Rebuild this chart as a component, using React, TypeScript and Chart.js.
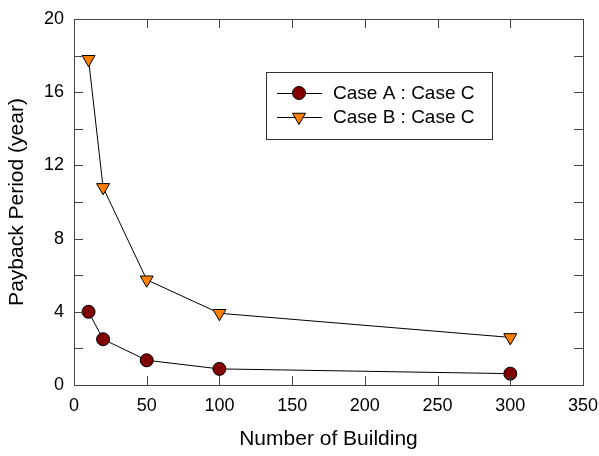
import React, { useEffect, useRef } from "react";
import { Chart, registerables } from "chart.js";

Chart.register(...registerables);

const buildings = [10, 20, 50, 100, 300];
const caseA = [4.0, 2.5, 1.35, 0.88, 0.62];
const caseB = [17.8, 10.8, 5.75, 3.92, 2.6];
const seriesLabels = ["Case A : Case C", "Case B : Case C"];
const xTicks = [0, 50, 100, 150, 200, 250, 300, 350];
const yTicks = [0, 2, 4, 6, 8, 10, 12, 14, 16, 18, 20];

const FONT = "'Liberation Sans', Arial, Helvetica, sans-serif";

const framePlugin = {
  id: "frameTicks",
  afterDatasetsDraw(chart: any) {
    const { ctx, chartArea, scales } = chart;
    const { left, right, top, bottom } = chartArea;
    const L = 9;
    ctx.save();
    ctx.strokeStyle = "#444";
    ctx.lineWidth = 1;
    ctx.beginPath();
    for (const v of xTicks) {
      const x = Math.round(scales.x.getPixelForValue(v)) + 0.5;
      ctx.moveTo(x, bottom);
      ctx.lineTo(x, bottom - L);
      ctx.moveTo(x, top);
      ctx.lineTo(x, top + L);
    }
    for (const v of yTicks) {
      const y = Math.round(scales.y.getPixelForValue(v)) + 0.5;
      ctx.moveTo(left, y);
      ctx.lineTo(left + L, y);
      ctx.moveTo(right, y);
      ctx.lineTo(right - L, y);
    }
    ctx.stroke();
    ctx.strokeRect(Math.round(left) + 0.5, Math.round(top) + 0.5, Math.round(right - left), Math.round(bottom - top));
    ctx.restore();
  },
  afterDraw(chart: any) {
    const { ctx } = chart;
    ctx.save();
    const bx = 266, by = 72, bw = 226, bh = 67;
    ctx.strokeStyle = "#333";
    ctx.lineWidth = 1;
    ctx.strokeRect(bx + 0.5, by + 0.5, bw, bh);
    const rows = [93, 117];
    chart.data.datasets.forEach((ds: any, i: number) => {
      const y = rows[i];
      ctx.strokeStyle = "#000";
      ctx.lineWidth = 1;
      ctx.beginPath();
      ctx.moveTo(277, y + 0.5);
      ctx.lineTo(322, y + 0.5);
      ctx.stroke();
      ctx.fillStyle = ds.pointBackgroundColor;
      ctx.strokeStyle = "#000";
      ctx.beginPath();
      const cx = 299;
      if (ds.pointStyle === "circle") {
        ctx.arc(cx, y, ds.pointRadius, 0, Math.PI * 2);
      } else {
        const r = ds.pointRadius;
        ctx.moveTo(cx, y + r);
        ctx.lineTo(cx - r * Math.sin(Math.PI / 3), y - r / 2);
        ctx.lineTo(cx + r * Math.sin(Math.PI / 3), y - r / 2);
        ctx.closePath();
      }
      ctx.fill();
      ctx.stroke();
      ctx.fillStyle = "#000";
      ctx.font = `19px ${FONT}`;
      ctx.textBaseline = "middle";
      ctx.textAlign = "left";
      ctx.fillText(ds.label, 333, y + 1);
    });
    ctx.restore();
  },
};

export default function App() {
  const ref = useRef<HTMLCanvasElement | null>(null);
  useEffect(() => {
    if (!ref.current) return;
    const chart = new Chart(ref.current, {
      type: "line",
      data: {
        datasets: [
          {
            label: seriesLabels[0],
            data: buildings.map((b, i) => ({ x: b, y: caseA[i] })),
            borderColor: "#000",
            borderWidth: 1,
            pointStyle: "circle",
            pointRadius: 6.5,
            pointBackgroundColor: "#800000",
            pointBorderColor: "#000",
            pointBorderWidth: 1,
            tension: 0,
          },
          {
            label: seriesLabels[1],
            data: buildings.map((b, i) => ({ x: b, y: caseB[i] })),
            borderColor: "#000",
            borderWidth: 1,
            pointStyle: "triangle",
            rotation: 180,
            pointRotation: 180,
            pointRadius: 7.5,
            pointBackgroundColor: "#ff8000",
            pointBorderColor: "#000",
            pointBorderWidth: 1,
            tension: 0,
          } as any,
        ],
      },
      options: {
        responsive: false,
        animation: false,
        layout: { padding: { top: 19, right: 16, left: 0, bottom: 0 } },
        plugins: { legend: { display: false }, tooltip: { enabled: false } },
        scales: {
          x: {
            type: "linear",
            min: 0,
            max: 350,
            grid: { display: false, drawTicks: false },
            border: { display: false },
            ticks: { stepSize: 50, color: "#000", font: { family: FONT, size: 18 }, padding: 10, maxRotation: 0 },
            title: { display: true, text: "Number of Building", color: "#000", font: { family: FONT, size: 21 }, padding: { top: 4, bottom: 4 } },
            afterFit: (s: any) => { s.height = 71; s.paddingLeft = 0; s.paddingRight = 0; },
          },
          y: {
            type: "linear",
            min: 0,
            max: 20,
            grid: { display: false, drawTicks: false },
            border: { display: false },
            ticks: { stepSize: 4, color: "#000", font: { family: FONT, size: 18 }, padding: 10 },
            title: { display: true, text: "Payback Period (year)", color: "#000", font: { family: FONT, size: 21 }, padding: { top: 5, bottom: 4 } },
            afterFit: (s: any) => { s.width = 74; s.paddingTop = 0; s.paddingBottom = 0; },
          },
        },
      },
      plugins: [framePlugin],
    } as any);
    return () => chart.destroy();
  }, []);
  return (
    <div style={{ position: "fixed", left: 0, top: 0, width: 599, height: 456, background: "#fff" }}>
      <canvas ref={ref} width={599} height={456} />
    </div>
  );
}
